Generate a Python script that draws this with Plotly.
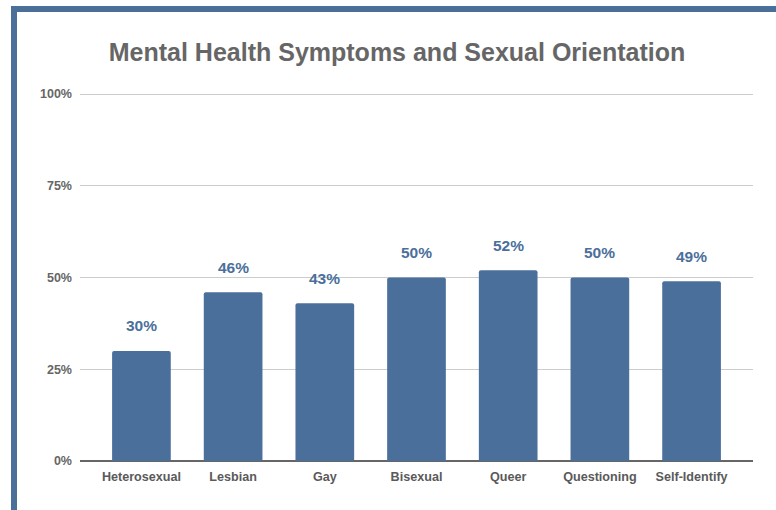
import plotly.graph_objects as go

categories = ["Heterosexual", "Lesbian", "Gay", "Bisexual", "Queer", "Questioning", "Self-Identify"]
values = [30, 46, 43, 50, 52, 50, 49]
y_ticks = [0, 25, 50, 75, 100]
y_tick_labels = ["0%", "25%", "50%", "75%", "100%"]

BAR = "#4b6f9b"
FRAME = "#4a7099"

W, H = 776, 510
ML, MR, MT, MB = 80, 776 - 753, 93, 510 - 461
PW, PH = W - ML - MR, H - MT - MB

def px_x(p):
    return (p - ML) / PW

def px_y(p):
    return (H - MB - p) / PH

fig = go.Figure()
fig.add_trace(go.Bar(
    x=categories, y=values, width=0.64,
    marker=dict(color=BAR, line=dict(width=0)),
    hoverinfo="skip",
))

for c, v in zip(categories, values):
    fig.add_annotation(
        x=c, y=v, text=f"{v}%", showarrow=False,
        yanchor="middle", yshift=25,
        font=dict(family="Liberation Sans, Arial", size=15.5, color=BAR, weight="bold"),
    )

shapes = [
    dict(type="rect", xref="paper", yref="paper",
         x0=px_x(11), x1=px_x(17), y0=px_y(515), y1=px_y(6),
         fillcolor=FRAME, line=dict(width=0), layer="above"),
    dict(type="rect", xref="paper", yref="paper",
         x0=px_x(11), x1=px_x(780), y0=px_y(12), y1=px_y(6),
         fillcolor=FRAME, line=dict(width=0), layer="above"),
]

fig.update_layout(
    width=W, height=H,
    margin=dict(l=ML, r=MR, t=MT, b=MB),
    paper_bgcolor="white", plot_bgcolor="white",
    barcornerradius=2,
    showlegend=False,
    title=dict(
        text="Mental Health Symptoms and Sexual Orientation",
        x=px_x(397), xref="paper", xanchor="center",
        y=1 - 52 / H, yref="container", yanchor="middle",
        font=dict(family="Liberation Sans, Arial", size=25, color="#666666", weight="bold"),
    ),
    xaxis=dict(
        range=[-0.67, 6.67], showgrid=False, showline=False, zeroline=False,
        ticks="", ticklabelstandoff=6,
        tickfont=dict(family="Liberation Sans, Arial", size=12.6, color="#5a5a5a", weight="bold"),
        fixedrange=True,
    ),
    yaxis=dict(
        range=[0, 100.3], tickvals=y_ticks, ticktext=y_tick_labels,
        showgrid=True, gridcolor="#cccccc", gridwidth=1,
        zeroline=True, zerolinecolor="#666666", zerolinewidth=2,
        showline=False, ticks="", ticklabelstandoff=7,
        tickfont=dict(family="Liberation Sans, Arial", size=12.5, color="#666666", weight="bold"),
        fixedrange=True,
    ),
    shapes=shapes,
)

fig.write_html(
    "out.html",
    config={"displayModeBar": False, "staticPlot": True},
    post_script="document.body.style.margin='0';document.body.style.overflow='hidden';",
)
